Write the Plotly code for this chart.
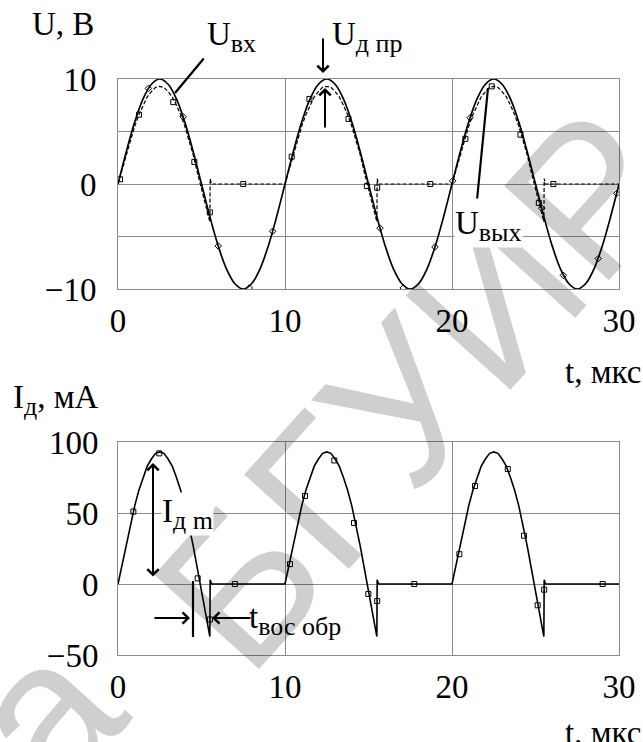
import plotly.graph_objects as go

W, H = 643, 742


def px(x):
    return x / W


def py(y):
    return 1 - y / H


FONT = "Liberation Serif"
FS = 33

# ---------------- data ----------------
# input voltage U_вх, V  (t in µs)
t_in = [0, 0.5, 1, 1.5, 2, 2.5, 3, 3.5, 4, 4.5, 5, 5.5, 6, 6.5, 7, 7.5, 8, 8.5, 9, 9.5,
        10, 10.5, 11, 11.5, 12, 12.5, 13, 13.5, 14, 14.5, 15, 15.5, 16, 16.5, 17, 17.5, 18, 18.5, 19, 19.5,
        20, 20.5, 21, 21.5, 22, 22.5, 23, 23.5, 24, 24.5, 25, 25.5, 26, 26.5, 27, 27.5, 28, 28.5, 29, 29.5,
        30]
u_in = [0, 3.1, 5.9, 8.1, 9.5, 10, 9.5, 8.1, 5.9, 3.1, 0, -3.1, -5.9, -8.1, -9.5, -10, -9.5, -8.1, -5.9, -3.1,
        0, 3.1, 5.9, 8.1, 9.5, 10, 9.5, 8.1, 5.9, 3.1, 0, -3.1, -5.9, -8.1, -9.5, -10, -9.5, -8.1, -5.9, -3.1,
        0, 3.1, 5.9, 8.1, 9.5, 10, 9.5, 8.1, 5.9, 3.1, 0, -3.1, -5.9, -8.1, -9.5, -10, -9.5, -8.1, -5.9, -3.1,
        0]

# output voltage U_вых, V
t_out = [0, 0.25, 0.5, 0.75, 1, 1.25, 1.5, 1.75, 2, 2.25, 2.5, 2.75, 3, 3.25, 3.5, 3.75, 4, 4.25, 4.5, 4.75,
         5, 5.25, 5.5, 5.52, 5.6,
         10, 10.25, 10.5, 10.75, 11, 11.25, 11.5, 11.75, 12, 12.25, 12.5, 12.75, 13, 13.25, 13.5, 13.75, 14,
         14.25, 14.5, 14.75, 15, 15.25, 15.5, 15.52, 15.6,
         20, 20.25, 20.5, 20.75, 21, 21.25, 21.5, 21.75, 22, 22.25, 22.5, 22.75, 23, 23.25, 23.5, 23.75, 24,
         24.25, 24.5, 24.75, 25, 25.25, 25.5, 25.52, 25.6, 30]
u_out = [0, 1.4, 2.9, 4.2, 5.5, 6.6, 7.5, 8.3, 8.8, 9.2, 9.3, 9.2, 8.8, 8.3, 7.5, 6.6, 5.5, 4.2, 2.8, 1.1,
         -0.5, -2.1, -3.6, 0.5, 0,
         0, 1.4, 2.9, 4.2, 5.5, 6.6, 7.5, 8.3, 8.8, 9.2, 9.3, 9.2, 8.8, 8.3, 7.5, 6.6, 5.5,
         4.2, 2.8, 1.1, -0.5, -2.1, -3.6, 0.5, 0,
         0, 1.4, 2.9, 4.2, 5.5, 6.6, 7.5, 8.3, 8.8, 9.2, 9.3, 9.2, 8.8, 8.3, 7.5, 6.6, 5.5,
         4.2, 2.8, 1.1, -0.5, -2.1, -3.6, 0.5, 0, 0]

# diode current I_д, mA
t_cur = t_out
i_cur = [0, 14, 29, 42, 55, 66, 75, 83, 88, 92, 93, 92, 88, 83, 75, 66, 55, 42, 27, 11,
         -5, -21, -37, 3, 0,
         0, 14, 29, 42, 55, 66, 75, 83, 88, 92, 93, 92, 88, 83, 75, 66, 55,
         42, 27, 11, -5, -21, -37, 3, 0,
         0, 14, 29, 42, 55, 66, 75, 83, 88, 92, 93, 92, 88, 83, 75, 66, 55,
         42, 27, 11, -5, -21, -37, 3, 0, 0]

# sample markers
t_mk_out = [0.12, 1.26, 3.31, 4.57, 5.5, 7.5, 10.4, 11.46, 13.8, 14.9, 15.52, 18.7, 20.8, 22.38, 24.1, 25.2, 26.07]
u_mk_out = [0.45, 6.6, 7.8, 2.1, -2.7, 0, 2.6, 8.1, 6.2, -0.2, -0.35, 0, 4.3, 9.3, 4.7, -1.8, 0]
t_mk_in = [1.82, 3.9, 6.0, 7.86, 9.26, 15.69, 17.08, 18.98, 20.04, 21.08, 25.37, 26.67, 28.76, 29.86]
u_mk_in = [9.1, 6.4, -5.9, -9.9, -4.5, -4.2, -9.9, -6.0, 0.3, 6.3, -2.3, -8.7, -7.1, -0.9]
t_mk_cur = [0.92, 2.47, 4.77, 5.5, 7.0, 10.3, 11.2, 12.95, 14.13, 14.99, 15.52, 17.74, 20.44, 21.38,
            23.34, 24.31, 25.13, 25.52, 29.02]
i_mk_cur = [51, 92, 4, -25, 0, 14, 62, 87, 43, -7, -12, 0, 21, 69, 81, 34, -15, -4, 0]

x_ticks = [0, 10, 20, 30]
y1_ticks = [-10, -5, 0, 5, 10]
y1_text = ["\u221210", "", "0", "", "10"]
y2_ticks = [-50, 0, 50, 100]
y2_text = ["\u221250", "0", "50", "100"]

# ---------------- figure ----------------
fig = go.Figure()

fig.add_trace(go.Scatter(x=t_in, y=u_in, mode="lines", line=dict(color="black", width=1.7, shape="spline"),
                         xaxis="x", yaxis="y", hoverinfo="skip"))
fig.add_trace(go.Scatter(x=t_out, y=u_out, mode="lines", line=dict(color="black", width=1.2, dash="4px,2px"),
                         xaxis="x", yaxis="y", hoverinfo="skip"))
fig.add_trace(go.Scatter(x=t_mk_in, y=u_mk_in, mode="markers",
                         marker=dict(symbol="diamond-open", size=5, color="black", line=dict(width=1)),
                         xaxis="x", yaxis="y", hoverinfo="skip"))
fig.add_trace(go.Scatter(x=t_mk_out, y=u_mk_out, mode="markers",
                         marker=dict(symbol="square-open", size=5, color="black", line=dict(width=1)),
                         xaxis="x", yaxis="y", hoverinfo="skip"))
fig.add_trace(go.Scatter(x=t_cur, y=i_cur, mode="lines", line=dict(color="black", width=1.6),
                         xaxis="x2", yaxis="y2", hoverinfo="skip"))
fig.add_trace(go.Scatter(x=t_mk_cur, y=i_mk_cur, mode="markers",
                         marker=dict(symbol="square-open", size=5, color="black", line=dict(width=1)),
                         xaxis="x2", yaxis="y2", hoverinfo="skip"))

axis_common = dict(showgrid=True, gridcolor="#8a8a8a", gridwidth=1, zeroline=False,
                   showline=True, mirror=True, linecolor="#8a8a8a", linewidth=1, automargin=False,
                   ticks="", ticklen=0, tickfont=dict(family=FONT, size=FS, color="black"), fixedrange=True)

xdom = [px(118), px(619)]
fig.update_layout(
    width=W, height=H,
    margin=dict(l=0, r=0, t=0, b=0, autoexpand=False),
    paper_bgcolor="white", plot_bgcolor="white",
    showlegend=False,
    xaxis=dict(domain=xdom, range=[0, 30], tickvals=x_ticks, anchor="y", ticklabelstandoff=2, **axis_common),
    yaxis=dict(domain=[py(289), py(79)], range=[-10, 10], tickvals=y1_ticks, ticktext=y1_text,
               anchor="x", ticklabelstandoff=14, **axis_common),
    xaxis2=dict(domain=xdom, range=[0, 30], tickvals=x_ticks, anchor="y2", ticklabelstandoff=2, **axis_common),
    yaxis2=dict(domain=[py(655), py(442)], range=[-50, 100], tickvals=y2_ticks, ticktext=y2_text,
                anchor="x2", ticklabelstandoff=12, **axis_common),
)

ann = []
# watermark ("...а БГУИР")
wm_font = dict(family="Liberation Sans", size=205, color="rgba(0,0,0,0.19)")
ann.append(dict(text="БГУИР", x=px(415), y=py(388), xref="paper", yref="paper", showarrow=False,
                textangle=-48, font=wm_font, xanchor="center", yanchor="middle"))
ann.append(dict(text="а", x=px(42), y=py(712), xref="paper", yref="paper", showarrow=False,
                textangle=-48, font=wm_font, xanchor="center", yanchor="middle"))


def sub(s):
    return "<sub><span style='font-size:26px'>" + s + "</span></sub>"


def label(text, x, y, xanchor="left", bg=None):
    d = dict(text=text, x=px(x), y=py(y), xref="paper", yref="paper", showarrow=False,
             xanchor=xanchor, yanchor="middle", font=dict(family=FONT, size=FS, color="black"))
    if bg:
        d.update(bgcolor=bg, borderpad=0)
    return d


def arrow(tip, tail, head=4, side="end", width=2.0):
    return dict(text="", x=px(tip[0]), y=py(tip[1]), xref="paper", yref="paper",
                ax=tail[0] - tip[0], ay=tail[1] - tip[1], axref="pixel", ayref="pixel",
                showarrow=True, arrowhead=head, arrowside=side, arrowsize=1.1, arrowwidth=width,
                arrowcolor="black", startarrowhead=head, startarrowsize=1.1)


# axis titles
ann.append(label("U, В", 30, 24))
ann.append(label("t, мкс", 643, 372, xanchor="right"))
ann.append(label("I" + sub("д") + ", мА", 11, 400))
ann.append(label("t, мкс", 643, 733, xanchor="right"))

# top annotations
ann.append(arrow((175, 93), (205, 57), head=0, width=2.2))
ann.append(label("U" + sub("вх"), 205, 37))
ann.append(arrow((323, 73), (323, 37)))
ann.append(arrow((325, 88), (325, 129)))
ann.append(label("U" + sub("д пр"), 330, 37))
ann.append(arrow((488, 88), (477, 200), head=0, width=2.2))
ann.append(label("U" + sub("вых"), 454, 226, bg="white"))

# bottom annotations
ann.append(arrow((153, 463), (153, 578), side="end+start"))
ann.append(label("I" + sub("д m"), 161, 514, bg="white"))
ann.append(arrow((190, 618), (153, 618)))
ann.append(arrow((212, 618), (252, 618)))
ann.append(label("t" + sub("вос обр"), 247, 620))

fig.update_layout(annotations=ann)
fig.add_shape(type="line", xref="paper", yref="paper", x0=px(193), x1=px(193), y0=py(581), y1=py(637),
              line=dict(color="black", width=2.2))

fig.write_html("out.html", config={"displayModeBar": False},
               post_script="document.body.style.margin='0px';document.body.style.overflow='hidden';")
